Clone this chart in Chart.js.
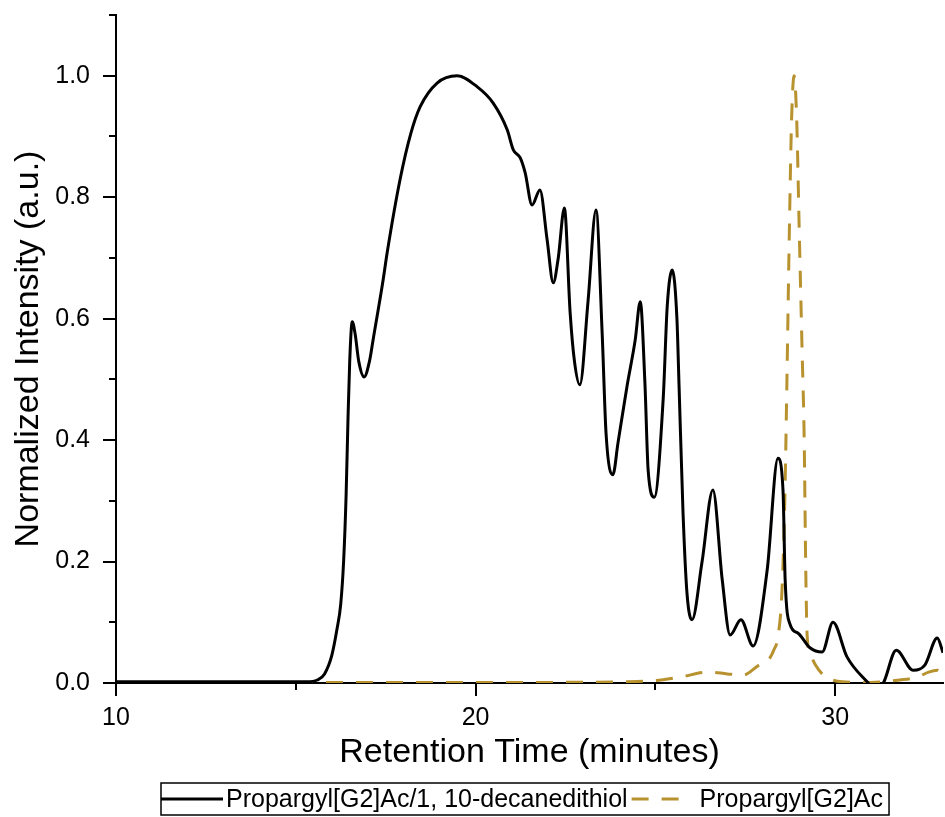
<!DOCTYPE html>
<html>
<head>
<meta charset="utf-8">
<script src="https://cdn.jsdelivr.net/npm/chart.js@4"></script>
<style>
html,body{margin:0;padding:0;background:#fff;}
#wrap{width:945px;height:817px;}
</style>
</head>
<body>
<div id="wrap"><canvas id="c" width="945" height="817"></canvas></div>
<script>
// ---- data ----
const seriesNames = ['Propargyl[G2]Ac/1, 10-decanedithiol', 'Propargyl[G2]Ac'];

const blackTime = [10, 12, 14, 15.3, 15.6, 15.8, 16.0, 16.15, 16.25, 16.33, 16.4, 16.45, 16.5, 16.57, 16.65, 16.75, 16.9, 17.05, 17.15, 17.43, 17.54, 17.9, 18.2, 18.46, 18.93, 19.49, 20.04, 20.49, 20.88, 21.05, 21.24, 21.38, 21.57, 21.79, 21.99, 22.16, 22.3, 22.47, 22.63, 22.75, 22.9, 23.13, 23.35, 23.52, 23.63, 23.82, 23.96, 24.21, 24.44, 24.58, 24.71, 24.8, 24.97, 25.22, 25.33, 25.47, 25.6, 25.66, 25.77, 25.88, 26.02, 26.3, 26.6, 26.86, 27.08, 27.38, 27.72, 28.11, 28.41, 28.55, 28.61, 28.75, 28.97, 29.3, 29.64, 29.94, 30.33, 30.89, 31.1, 31.34, 31.7, 32.17, 32.5, 32.84, 33.0];
const blackIntensity = [0.002, 0.002, 0.002, 0.002, 0.005, 0.015, 0.045, 0.09, 0.13, 0.2, 0.31, 0.43, 0.53, 0.595, 0.575, 0.53, 0.504, 0.53, 0.565, 0.664, 0.708, 0.829, 0.905, 0.949, 0.988, 1.0, 0.982, 0.955, 0.911, 0.878, 0.865, 0.84, 0.787, 0.812, 0.73, 0.659, 0.7, 0.782, 0.61, 0.53, 0.491, 0.63, 0.779, 0.577, 0.41, 0.343, 0.395, 0.488, 0.565, 0.628, 0.494, 0.35, 0.306, 0.47, 0.62, 0.68, 0.6, 0.488, 0.28, 0.148, 0.104, 0.2, 0.318, 0.17, 0.079, 0.104, 0.061, 0.186, 0.37, 0.318, 0.17, 0.096, 0.082, 0.058, 0.051, 0.1, 0.043, 0.002, -0.01, 0.0, 0.054, 0.021, 0.03, 0.074, 0.05];

const goldTime = [10, 14, 18, 22, 24, 25, 25.7, 26.5, 27.0, 27.44, 27.9, 28.11, 28.3, 28.41, 28.52, 28.6, 28.66, 28.72, 28.79, 28.86, 28.93, 29.0, 29.08, 29.14, 29.18, 29.22, 29.3, 29.45, 29.7, 30.2, 31.0, 31.8, 32.3, 32.6, 32.85, 33.0];
const goldIntensity = [0.001, 0.001, 0.001, 0.001, 0.002, 0.004, 0.01, 0.018, 0.015, 0.013, 0.03, 0.035, 0.055, 0.076, 0.15, 0.3, 0.5, 0.72, 0.93, 1.0, 0.93, 0.75, 0.55, 0.4, 0.2, 0.08, 0.05, 0.03, 0.012, 0.002, 0.001, 0.005, 0.01, 0.018, 0.021, 0.012];

const xMajorTicks = [10, 20, 30];
const xMinorTicks = [15, 25];
const yMajorTicks = [0.0, 0.2, 0.4, 0.6, 0.8, 1.0];
const yMinorTicks = [0.1, 0.3, 0.5, 0.7, 0.9, 1.1];

const xTitle = 'Retention Time (minutes)';
const yTitle = 'Normalized Intensity (a.u.)';

// ---- styling ----
const BLACK = '#000000';
const GOLD = '#b8922f';
const DASH = [17, 13];
const FONT = '"Liberation Sans", Arial, sans-serif';

const toPoints = (xs, ys) => xs.map((x, i) => ({x: x, y: ys[i]}));

const tickPlugin = {
  id: 'tickMarks',
  afterDraw(chart) {
    const ctx = chart.ctx;
    const xs = chart.scales.x, ys = chart.scales.y;
    const area = chart.chartArea;
    ctx.save();
    ctx.strokeStyle = BLACK;
    ctx.lineWidth = 2;
    ctx.lineCap = 'butt';
    const drawX = (v, len) => {
      const p = Math.round(xs.getPixelForValue(v));
      ctx.beginPath(); ctx.moveTo(p, area.bottom); ctx.lineTo(p, area.bottom + len); ctx.stroke();
    };
    const drawY = (v, len) => {
      const p = Math.round(ys.getPixelForValue(v));
      ctx.beginPath(); ctx.moveTo(area.left, p); ctx.lineTo(area.left - len, p); ctx.stroke();
    };
    xMajorTicks.forEach(v => drawX(v, 13));
    xMinorTicks.forEach(v => drawX(v, 7));
    yMajorTicks.forEach(v => drawY(v, 13));
    yMinorTicks.forEach(v => drawY(v, 7));
    ctx.restore();
  }
};

const legendPlugin = {
  id: 'boxLegend',
  afterDraw(chart) {
    const ctx = chart.ctx;
    const area = chart.chartArea;
    const ds = chart.data.datasets;
    ctx.save();
    ctx.font = '25px ' + FONT;
    const w1 = ctx.measureText(ds[0].label).width;
    const w2 = ctx.measureText(ds[1].label).width;
    const sample1 = 62, sample2 = 54;
    const total = sample1 + 3 + w1 + 4 + sample2 + 14 + w2 + 6;
    const cx = (area.left + area.right) / 2 - 4;
    const left = Math.round(cx - total / 2);
    const top = 783, h = 32;
    const midY = top + h / 2;
    ctx.strokeStyle = BLACK;
    ctx.lineWidth = 1.5;
    ctx.strokeRect(left, top, total, h);
    let x = left;
    ctx.lineWidth = ds[0].borderWidth;
    ctx.strokeStyle = ds[0].borderColor;
    ctx.setLineDash([]);
    ctx.beginPath(); ctx.moveTo(x, midY); ctx.lineTo(x + sample1, midY); ctx.stroke();
    x += sample1 + 3;
    ctx.fillStyle = BLACK;
    ctx.textBaseline = 'alphabetic';
    ctx.textAlign = 'left';
    ctx.fillText(ds[0].label, x, top + 24);
    x += w1 + 4;
    ctx.lineWidth = ds[1].borderWidth;
    ctx.strokeStyle = ds[1].borderColor;
    ctx.setLineDash(ds[1].borderDash);
    ctx.beginPath(); ctx.moveTo(x, midY); ctx.lineTo(x + sample2, midY); ctx.stroke();
    ctx.setLineDash([]);
    x += sample2 + 14;
    ctx.fillText(ds[1].label, x, top + 24);
    ctx.restore();
  }
};

const whiteBg = {
  id: 'whiteBg',
  beforeDraw(chart) {
    const ctx = chart.ctx;
    ctx.save();
    ctx.fillStyle = '#fff';
    ctx.fillRect(0, 0, chart.width, chart.height);
    ctx.restore();
  }
};

new Chart(document.getElementById('c'), {
  type: 'line',
  data: {
    datasets: [
      {
        label: seriesNames[0],
        data: toPoints(blackTime, blackIntensity),
        borderColor: BLACK,
        borderWidth: 3,
        pointRadius: 0,
        cubicInterpolationMode: 'monotone',
        fill: false
      },
      {
        label: seriesNames[1],
        data: toPoints(goldTime, goldIntensity),
        borderColor: GOLD,
        borderWidth: 3,
        borderDash: DASH,
        pointRadius: 0,
        cubicInterpolationMode: 'monotone',
        fill: false
      }
    ]
  },
  options: {
    responsive: false,
    animation: false,
    events: [],
    layout: {padding: {top: 15, right: 2, left: 0, bottom: 0}},
    plugins: {legend: {display: false}, tooltip: {enabled: false}},
    scales: {
      x: {
        type: 'linear',
        position: 'bottom',
        min: 10,
        max: 33,
        afterBuildTicks: s => { s.ticks = xMajorTicks.map(v => ({value: v})); },
        afterFit: s => { s.height = 134; s.paddingLeft = 0; s.paddingRight = 0; s.paddingTop = 0; s.paddingBottom = 0; },
        grid: {display: false, drawTicks: false},
        border: {display: true, color: BLACK, width: 2},
        ticks: {
          autoSkip: false,
          maxRotation: 0,
          padding: 20,
          color: '#000',
          font: {family: FONT, size: 25},
          callback: v => String(v)
        },
        title: {
          display: true,
          text: xTitle,
          color: '#000',
          font: {family: FONT, size: 34},
          padding: {top: 44, bottom: 44}
        }
      },
      y: {
        type: 'linear',
        min: 0,
        max: 1.1,
        afterBuildTicks: s => { s.ticks = yMajorTicks.map(v => ({value: v})); },
        afterFit: s => { s.width = 116; s.paddingTop = 0; s.paddingBottom = 0; s.paddingLeft = 0; s.paddingRight = 0; },
        grid: {display: false, drawTicks: false},
        border: {display: true, color: BLACK, width: 2},
        ticks: {
          autoSkip: false,
          padding: 26,
          color: '#000',
          font: {family: FONT, size: 25},
          callback: v => Number(v).toFixed(1)
        },
        title: {
          display: true,
          text: yTitle,
          color: '#000',
          font: {family: FONT, size: 34},
          padding: {top: 8, bottom: 8}
        }
      }
    }
  },
  plugins: [whiteBg, tickPlugin, legendPlugin]
});
</script>
</body>
</html>
